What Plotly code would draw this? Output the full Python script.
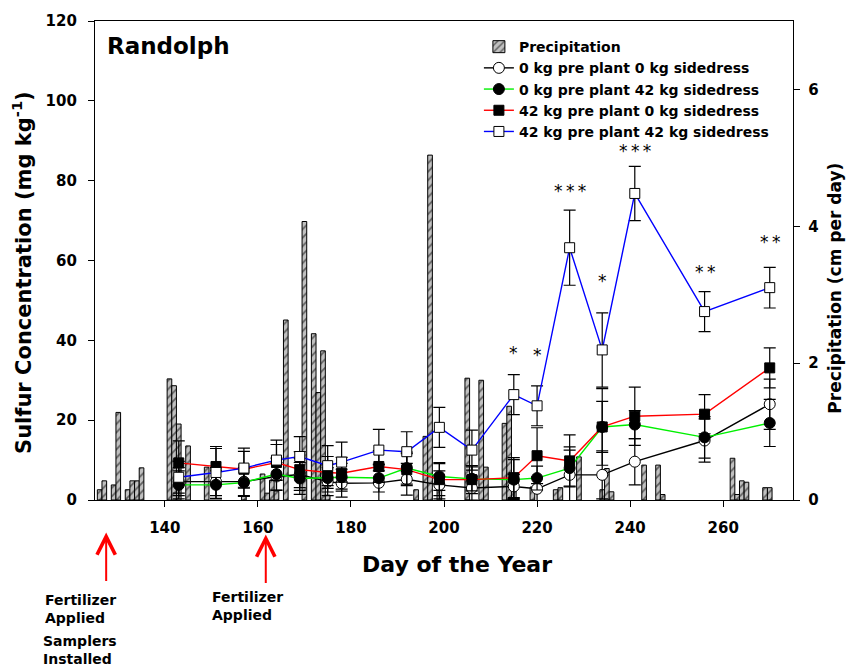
import plotly.graph_objects as go

# ---------------- data ----------------
precip_days = [126, 127, 129, 130, 132, 133, 134, 135, 141, 142, 143, 145, 149, 157,
               161, 162, 163, 164, 166, 170, 172, 173, 174, 175, 194, 196, 197, 199,
               205, 208, 209, 213, 214, 215, 219, 224, 225, 229, 234, 235, 236, 243,
               246, 247, 262, 263, 264, 265, 269, 270]
precip_cm = [0.15, 0.28, 0.22, 1.28, 0.15, 0.28, 0.28, 0.47, 1.77, 1.67, 1.11, 0.79, 0.48, 0.06,
             0.38, 0.10, 0.29, 0.13, 2.63, 4.07, 2.43, 1.57, 2.18, 0.07, 0.15, 0.93, 5.04, 0.17,
             1.78, 1.75, 0.48, 1.12, 1.37, 0.15, 0.19, 0.15, 0.18, 0.63, 0.15, 0.46, 0.12, 0.51,
             0.51, 0.08, 0.61, 0.08, 0.28, 0.26, 0.18, 0.18]

sample_days = [143, 151, 157, 164, 169, 175, 178, 186, 192, 199, 206, 215, 220, 227, 234, 241, 256, 270]

pp0_sd0 = [4.6, 4.6, 4.6, 5.9, 6.4, 4.6, 4.2, 4.3, 5.2, 3.8, 3.0, 3.4, 2.8, 6.3, 6.3, 9.6, 14.9, 24.0]
pp0_sd0_err = [3.5, 3.5, 3.5, 3.5, 4.0, 3.5, 3.5, 4.5, 4.0, 3.5, 3.0, 3.0, 3.0, 7.0, 6.0, 5.8, 5.4, 6.3]

pp0_sd42 = [3.8, 3.8, 4.4, 6.5, 5.4, 5.5, 5.7, 5.5, 8.0, 5.9, 5.3, 5.1, 5.5, 8.0, 18.3, 18.9, 15.7, 19.3]
pp0_sd42_err = [3.5, 3.5, 3.5, 4.0, 4.0, 3.5, 3.5, 3.5, 4.0, 3.5, 3.0, 5.0, 3.0, 4.5, 6.4, 3.5, 5.2, 5.9]

pp42_sd0 = [9.3, 8.4, 7.7, 9.4, 7.6, 6.9, 6.7, 8.4, 7.6, 5.1, 5.1, 5.6, 11.1, 9.8, 18.3, 21.0, 21.5, 33.1]
pp42_sd0_err = [5.5, 4.5, 4.5, 4.5, 4.5, 4.0, 4.0, 4.0, 4.0, 4.0, 3.5, 5.0, 7.0, 6.5, 9.6, 7.3, 4.9, 5.0]

pp42_sd42 = [5.7, 6.9, 8.0, 10.0, 10.9, 8.6, 9.5, 12.5, 12.1, 18.2, 12.5, 26.4, 23.6, 63.2, 37.6, 76.8, 47.2, 53.2]
pp42_sd42_err = [4.0, 6.5, 5.0, 5.0, 5.0, 5.0, 5.0, 5.2, 5.0, 5.0, 5.0, 5.0, 5.0, 9.4, 9.3, 6.8, 5.0, 5.1]

sig_days = [215, 220, 227, 234, 241, 256, 270]
sig_level = [36.6, 36.0, 77.2, 54.7, 87.3, 56.8, 64.5]
sig_text = ["*", "*", "*\u2009*\u2009*", "*", "*\u2009*\u2009*", "*\u2009*", "*\u2009*"]

event_days = [127.4, 161.7]

# ---------------- figure ----------------
FONT = "DejaVu Sans"
fig = go.Figure()

fig.add_trace(go.Bar(
    x=precip_days, y=precip_cm, width=1, name="Precipitation", yaxis="y",
    marker=dict(color="#c0c0c0", line=dict(color="black", width=1),
                pattern=dict(shape="/", fgcolor="black", bgcolor="#c0c0c0", size=6, solidity=0.3)),
))

series = [
    ("0 kg pre plant 0 kg sidedress", pp0_sd0, pp0_sd0_err, "black", "circle", "white"),
    ("0 kg pre plant 42 kg sidedress", pp0_sd42, pp0_sd42_err, "#00f000", "circle", "black"),
    ("42 kg pre plant 0 kg sidedress", pp42_sd0, pp42_sd0_err, "red", "square", "black"),
    ("42 kg pre plant 42 kg sidedress", pp42_sd42, pp42_sd42_err, "blue", "square", "white"),
]
for name, vals, errs, lc, sym, fill in series:
    fig.add_trace(go.Scatter(
        x=sample_days, y=vals, name=name, yaxis="y2", mode="lines+markers",
        line=dict(color=lc, width=1.4),
        marker=dict(symbol=sym, size=11 if sym == "circle" else 10, color=fill,
                    line=dict(color="black", width=1)),
        error_y=dict(type="data", array=errs, visible=True, color="black", thickness=1.2, width=6),
    ))

tickfont = dict(family=FONT, size=15, color="black", weight="bold")
axis_common = dict(showline=True, linecolor="black", linewidth=1.3, ticks="outside",
                   ticklen=6, tickwidth=1, tickcolor="black", showgrid=False, zeroline=False,
                   tickfont=tickfont)

fig.update_layout(
    width=851, height=668,
    margin=dict(l=95, r=58, t=19, b=168),
    plot_bgcolor="white", paper_bgcolor="white",
    font=dict(family=FONT, size=15, color="black"),
    xaxis=dict(range=[125, 275], tickvals=[140, 160, 180, 200, 220, 240, 260], mirror=True,
               ticklabelstandoff=8, **axis_common),
    yaxis=dict(range=[0, 7], side="right", tickvals=[0, 2, 4, 6], ticklabelstandoff=5,
               **axis_common),
    yaxis2=dict(range=[0, 120], side="left", overlaying="y", ticklabelstandoff=8,
                tickvals=[0, 20, 40, 60, 80, 100, 120], **axis_common),
    showlegend=True,
    legend=dict(x=0.55, y=0.979, xanchor="left", yanchor="top", bgcolor="rgba(0,0,0,0)",
                font=dict(family=FONT, size=14, color="black", weight="bold"),
                traceorder="normal"),
)

ann = []
# Title
ann.append(dict(text="Randolph", xref="paper", yref="paper", x=0.0143, y=0.979,
                xanchor="left", yanchor="top", showarrow=False,
                font=dict(family=FONT, size=23, color="black", weight="bold")))
# axis titles
ann.append(dict(text="Day of the Year", xref="paper", yref="paper", x=0.5186, y=-0.1053,
                xanchor="center", yanchor="top", showarrow=False,
                font=dict(family=FONT, size=22, color="black", weight="bold")))
ann.append(dict(text="Sulfur Concentration (mg kg<sup>-1</sup>)", xref="paper", yref="paper",
                x=-0.1046, y=0.476, xanchor="center", yanchor="middle", textangle=-90,
                showarrow=False, font=dict(family=FONT, size=21, color="black", weight="bold")))
ann.append(dict(text="Precipitation (cm per day)", xref="paper", yref="paper",
                x=1.060, y=0.443, xanchor="center", yanchor="middle", textangle=-90,
                showarrow=False, font=dict(family=FONT, size=17, color="black", weight="bold")))
# significance stars
for d, lvl, t in zip(sig_days, sig_level, sig_text):
    ann.append(dict(text=t, x=d, y=lvl, xref="x", yref="y2", showarrow=False,
                    xanchor="center", yanchor="middle", yshift=1,
                    font=dict(family=FONT, size=17, color="black")))
# event arrows
for d, yhead in zip(event_days, [-0.0679, -0.0720]):
    ann.append(dict(text="", x=d, y=yhead, xref="x", yref="paper", showarrow=True,
                    ax=0, ay=50, arrowhead=5, arrowsize=1.8, arrowwidth=2, arrowcolor="red",
                    standoff=0))
note_font = dict(family=FONT, size=14, color="black", weight="bold")
ann.append(dict(text="Fertilizer<br>Applied", xref="paper", yref="paper", x=-0.0745, y=-0.1884,
                xanchor="left", yanchor="top", align="left", showarrow=False, font=note_font))
ann.append(dict(text="Samplers<br>Installed", xref="paper", yref="paper", x=-0.0774, y=-0.2739,
                xanchor="left", yanchor="top", align="left", showarrow=False, font=note_font))
ann.append(dict(text="Fertilizer<br>Applied", xref="paper", yref="paper", x=0.1648, y=-0.1825,
                xanchor="left", yanchor="top", align="left", showarrow=False, font=note_font))
fig.update_layout(annotations=ann)

fig.write_html("out.html", config={"displayModeBar": False},
               post_script="document.body.style.margin='0';")
